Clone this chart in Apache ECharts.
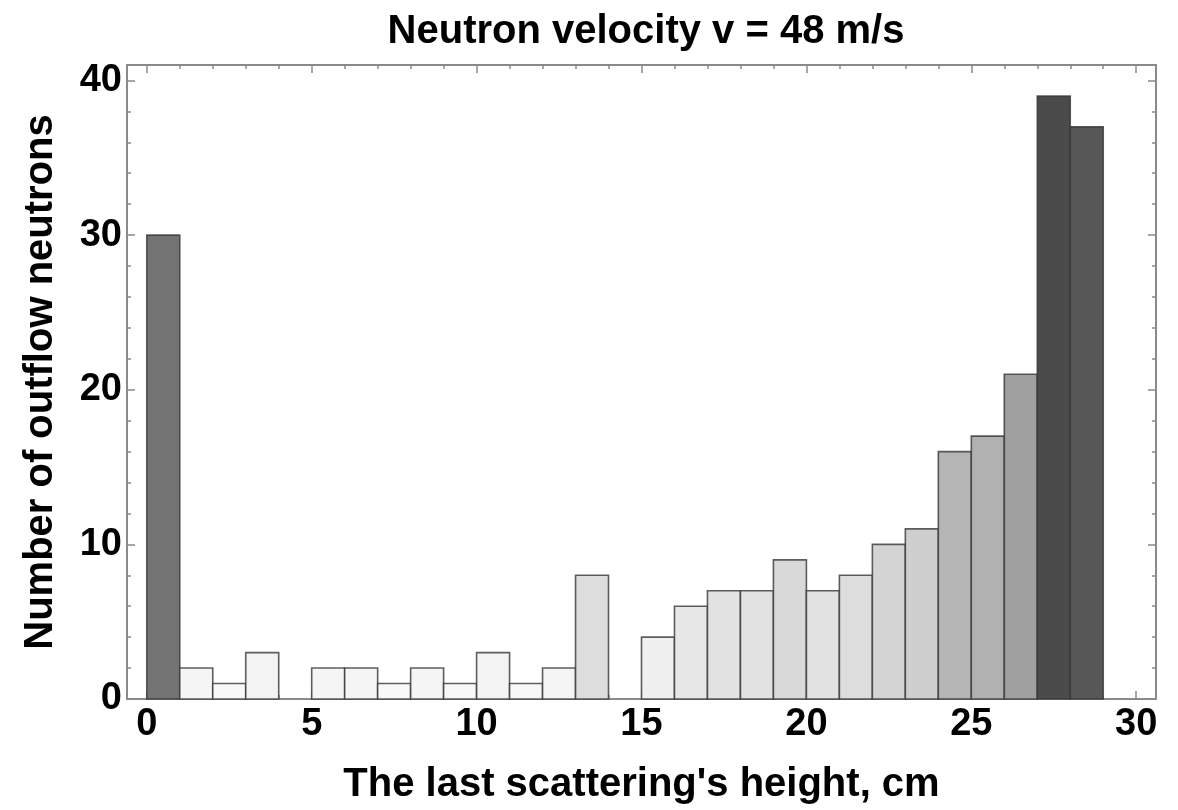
<!DOCTYPE html>
<html>
<head>
<meta charset="utf-8">
<script src="https://cdn.jsdelivr.net/npm/echarts@6/dist/echarts.min.js"></script>
<style>
html,body{margin:0;padding:0;background:#fff;}
#chart{width:1178px;height:810px;}
</style>
</head>
<body>
<div id="chart"></div>
<script>
// ---- data ----
const binStarts = [0,1,2,3,4,5,6,7,8,9,10,11,12,13,14,15,16,17,18,19,20,21,22,23,24,25,26,27,28];
const binEnds   = [1,2,3,4,5,6,7,8,9,10,11,12,13,14,15,16,17,18,19,20,21,22,23,24,25,26,27,28,29];
const counts    = [30,2,1,3,0,2,2,1,2,1,3,1,2,8,0,4,6,7,7,9,7,8,10,11,16,17,21,39,37];
const xMajorTicks = [0,5,10,15,20,25,30];
const xMinorTicks = [0,1,2,3,4,5,6,7,8,9,10,11,12,13,14,15,16,17,18,19,20,21,22,23,24,25,26,27,28,29,30];
const yMajorTicks = [0,10,20,30,40];
const yMinorTicks = [0,2,4,6,8,10,12,14,16,18,20,22,24,26,28,30,32,34,36,38,40];
const titleText = 'Neutron velocity v = 48 m/s';
const xTitle = "The last scattering's height, cm";
const yTitle = 'Number of outflow neutrons';

// ---- style helpers ----
const grayAnchors = [[0,250],[4,240],[8,221],[10,212],[16,181],[21,160],[30,115],[37,87],[39,75],[45,60]];
function grayFor(v){
  for(let i=1;i<grayAnchors.length;i++){
    const a=grayAnchors[i-1], b=grayAnchors[i];
    if(v<=b[0]){
      const g=Math.round(a[1]+(b[1]-a[1])*(v-a[0])/(b[0]-a[0]));
      return 'rgb('+g+','+g+','+g+')';
    }
  }
  return 'rgb(60,60,60)';
}
const FONT = '"Liberation Sans", Arial, sans-serif';
const axisColor = '#8a8a8a';
const XMIN=-0.6, XMAX=30.6, YMIN=0, YMAX=41;

function xAx(pos, major, showLine, showLabel){
  return {
    type:'value', position:pos, min:XMIN, max:XMAX,
    axisLine:{show:showLine, onZero:false, lineStyle:{color:axisColor,width:2}},
    axisTick:{show:true, inside:true, length: major?8:4, customValues: major?xMajorTicks:xMinorTicks,
      lineStyle:{color:axisColor,width:1.5}},
    axisLabel:{show:showLabel, customValues:xMajorTicks, color:'#000', fontFamily:FONT, fontWeight:'bold', fontSize:38, margin:7},
    splitLine:{show:false}
  };
}
function yAx(pos, major, showLine, showLabel){
  return {
    type:'value', position:pos, min:YMIN, max:YMAX,
    axisLine:{show:showLine, onZero:false, lineStyle:{color:axisColor,width:2}},
    axisTick:{show:true, inside:true, length: major?8:4, customValues: major?yMajorTicks:yMinorTicks,
      lineStyle:{color:axisColor,width:1.5}},
    axisLabel:{show:showLabel, customValues:yMajorTicks, color:'#000', fontFamily:FONT, fontWeight:'bold', fontSize:38, margin:5},
    splitLine:{show:false}
  };
}

const xAxes = [xAx('bottom',true,true,true), xAx('bottom',false,false,false), xAx('top',true,true,false), xAx('top',false,false,false)];
xAxes[0].name = xTitle;
xAxes[0].nameLocation = 'middle';
xAxes[0].nameGap = 66;
xAxes[0].nameTextStyle = {color:'#000', fontFamily:FONT, fontWeight:'bold', fontSize:40};
const yAxes = [yAx('left',true,true,true), yAx('left',false,false,false), yAx('right',true,true,false), yAx('right',false,false,false)];
yAxes[0].name = yTitle;
yAxes[0].nameLocation = 'middle';
yAxes[0].nameRotate = 90;
yAxes[0].nameGap = 66;
yAxes[0].nameTextStyle = {color:'#000', fontFamily:FONT, fontWeight:'bold', fontSize:40};

const data = binStarts.map((s,i)=>[s, binEnds[i], counts[i]]);

const chart = echarts.init(document.getElementById('chart'), null, {renderer:'canvas'});
chart.setOption({
  animation:false,
  backgroundColor:'#fff',
  title:{text:titleText, left:641, textAlign:'center', top:7,
    textStyle:{color:'#000', fontFamily:FONT, fontWeight:'bold', fontSize:40}},
  grid:{left:127, right:22, top:65, bottom:109, containLabel:false},
  xAxis:xAxes,
  yAxis:yAxes,
  series:[{
    type:'custom',
    xAxisIndex:0, yAxisIndex:0,
    encode:{x:[0,1], y:2},
    data:data,
    renderItem:function(params, api){
      const x0=api.value(0), x1=api.value(1), v=api.value(2);
      if(!(v>0)) return null;
      const p0=api.coord([x0,v]);
      const p1=api.coord([x1,0]);
      return {type:'rect',
        shape:{x:p0[0], y:p0[1], width:p1[0]-p0[0], height:p1[1]-p0[1]},
        style:{fill:grayFor(v), stroke:'rgba(55,55,55,0.8)', lineWidth:1.6}};
    }
  }]
});
</script>
</body>
</html>
